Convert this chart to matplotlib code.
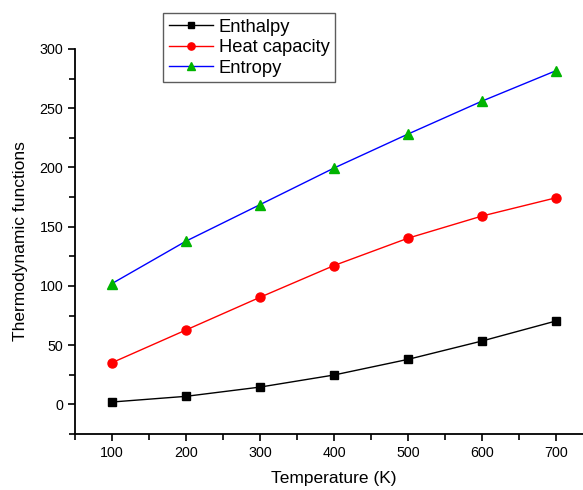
import numpy as np
import matplotlib
matplotlib.use("agg")
import matplotlib.pyplot as plt
from matplotlib.ticker import MultipleLocator

plt.rcParams['font.family'] = ['Liberation Sans', 'DejaVu Sans']

temperature = [100, 200, 300, 400, 500, 600, 700]
enthalpy = [2.0, 6.8, 14.6, 24.8, 38.0, 53.5, 70.4]
heat_capacity = [35.2, 62.8, 90.4, 117.2, 140.3, 159.0, 174.4]
entropy = [102.0, 137.8, 168.6, 199.5, 228.2, 256.0, 281.7]

fig = plt.figure(figsize=(5.83, 4.90), dpi=100)
ax = fig.add_axes([75/583, 56/490, 518/583, 385/490])

ax.plot(temperature, enthalpy, "k-", lw=1.0, marker="s", ms=5.8, label="Enthalpy")
ax.plot(temperature, heat_capacity, "r-", lw=1.0, marker="o", ms=6.5, label="Heat capacity")
ax.plot(temperature, entropy, "b-", lw=1.0, marker="^", ms=7, mfc="#00b400", mec="#00b400",
        label="Entropy")

ax.set_xlim(50, 750)
ax.set_ylim(-25, 300)
ax.xaxis.set_major_locator(MultipleLocator(100))
ax.xaxis.set_minor_locator(MultipleLocator(50))
ax.yaxis.set_major_locator(MultipleLocator(50))
ax.yaxis.set_minor_locator(MultipleLocator(25))
ax.set_xticks([100, 200, 300, 400, 500, 600, 700])

ax.spines['top'].set_visible(False)
ax.spines['right'].set_visible(False)
for s in ['left', 'bottom']:
    ax.spines[s].set_linewidth(1.3)

ax.tick_params(which='major', direction='out', length=5, width=1.2, labelsize=10.3)
ax.tick_params(which='minor', direction='out', length=4, width=1.2)

ax.set_xlabel('Temperature (K)', fontsize=12.5, labelpad=8)
ax.set_ylabel('Thermodynamic functions', fontsize=12.5, labelpad=8)

leg = ax.legend(loc='upper left', bbox_to_anchor=(163/583, 1 - 13/490), bbox_transform=fig.transFigure,
                fontsize=13.2, frameon=True, fancybox=False, handlelength=2.4, markerscale=0.8,
                borderpad=0.3, labelspacing=0.2, handletextpad=0.35, borderaxespad=0)
leg.get_frame().set_edgecolor('#333333')
leg.get_frame().set_linewidth(1.0)

plt.savefig("out.png", dpi=100)
plt.close()
